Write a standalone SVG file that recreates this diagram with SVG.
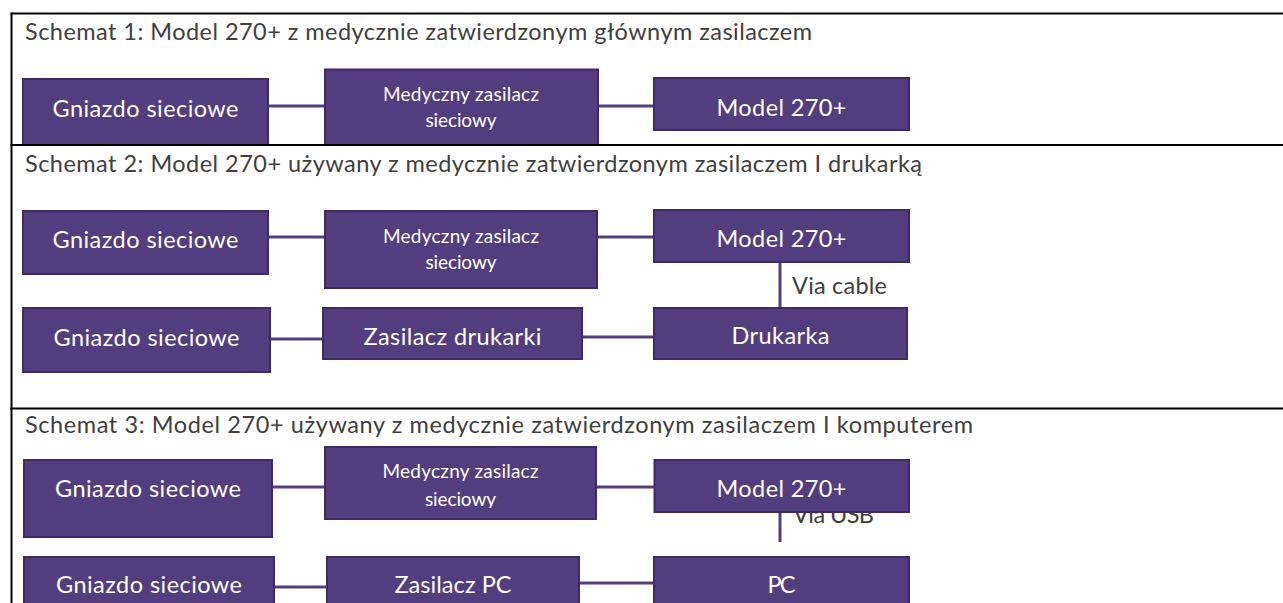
<svg xmlns="http://www.w3.org/2000/svg" width="1283" height="603" viewBox="0 0 1283 603">
  <style>
    .title { font-family: Lato, "Open Sans", "Liberation Sans", sans-serif; font-size: 23.5px; fill: #404040; }
    .lbl { font-family: Lato, "Open Sans", "Liberation Sans", sans-serif; font-size: 23.5px; fill: #ffffff; text-anchor: middle; }
    .small { font-family: Lato, "Open Sans", "Liberation Sans", sans-serif; font-size: 19px; fill: #ffffff; text-anchor: middle; }
    .note { font-family: Lato, "Open Sans", "Liberation Sans", sans-serif; font-size: 23.5px; fill: #404040; }
    .box { fill: #523E7F; stroke: #3E2B66; stroke-width: 2; }
    .wire { stroke: #533F80; stroke-width: 3; fill: none; }
    .rule { stroke: #000000; stroke-width: 2; fill: none; }
  </style>
  <defs>
    <clipPath id="cell1"><rect x="12" y="14.5" width="1271" height="129.5"/></clipPath>
    <clipPath id="cell3"><rect x="12" y="409.5" width="1271" height="194"/></clipPath>
    <clipPath id="m3text"><rect x="325" y="447" width="271" height="61"/></clipPath>
  </defs>

  <rect x="0" y="0" width="1283" height="603" fill="#ffffff"/>

  <!-- section titles -->
  <text class="title" x="25" y="39.5" textLength="787" lengthAdjust="spacing">Schemat 1: Model 270+ z medycznie zatwierdzonym głównym zasilaczem</text>
  <text class="title" x="25" y="172" textLength="897" lengthAdjust="spacing">Schemat 2: Model 270+ używany z medycznie zatwierdzonym zasilaczem I drukarką</text>
  <text class="title" x="25" y="433" textLength="948" lengthAdjust="spacing">Schemat 3: Model 270+ używany z medycznie zatwierdzonym zasilaczem I komputerem</text>

  <!-- connectors -->
  <g id="connectors">
    <g clip-path="url(#cell1)">
      <line class="wire" x1="266" y1="106" x2="327" y2="106"/>
      <line class="wire" x1="596" y1="106" x2="656" y2="106"/>
    </g>
    <line class="wire" x1="266" y1="237" x2="327" y2="237"/>
    <line class="wire" x1="595" y1="237" x2="656" y2="237"/>
    <line class="wire" x1="780" y1="261" x2="780" y2="309"/>
    <line class="wire" x1="268" y1="339" x2="325" y2="339"/>
    <line class="wire" x1="580" y1="337" x2="656" y2="337"/>
    <g clip-path="url(#cell3)">
      <line class="wire" x1="270" y1="487" x2="327" y2="487"/>
      <line class="wire" x1="594" y1="487" x2="656" y2="487"/>
      <line class="wire" x1="780" y1="505" x2="780" y2="542"/>
      <line class="wire" x1="272" y1="587" x2="329" y2="587"/>
      <line class="wire" x1="577" y1="583" x2="656" y2="583"/>
    </g>
  </g>

  <!-- connector labels -->
  <text class="note" x="792" y="293.5" textLength="95" lengthAdjust="spacing">Via cable</text>
  <text class="note" x="793" y="523" textLength="81" lengthAdjust="spacing">Via USB</text>

  <!-- scheme 1 -->
  <g clip-path="url(#cell1)">
    <g id="s1-gniazdo">
      <rect class="box" x="23" y="79" width="245" height="75"/>
      <text class="lbl" x="145.5" y="116.7" textLength="186" lengthAdjust="spacing">Gniazdo sieciowe</text>
    </g>
    <g id="s1-zasilacz">
      <rect class="box" x="325" y="69.5" width="273" height="85"/>
      <text class="small" x="461" y="101" textLength="156" lengthAdjust="spacing">Medyczny zasilacz</text>
      <text class="small" x="461" y="127" textLength="71" lengthAdjust="spacing">sieciowy</text>
    </g>
    <g id="s1-model">
      <rect class="box" x="654" y="78" width="255" height="52"/>
      <text class="lbl" x="781.5" y="115.7" textLength="130" lengthAdjust="spacing">Model 270+</text>
    </g>
  </g>

  <!-- scheme 2 -->
  <g id="s2-gniazdo-a">
    <rect class="box" x="23" y="211" width="245" height="63"/>
    <text class="lbl" x="145.5" y="248" textLength="186" lengthAdjust="spacing">Gniazdo sieciowe</text>
  </g>
  <g id="s2-zasilacz">
    <rect class="box" x="325" y="211" width="272" height="77"/>
    <text class="small" x="461" y="243" textLength="156" lengthAdjust="spacing">Medyczny zasilacz</text>
    <text class="small" x="461" y="269" textLength="71" lengthAdjust="spacing">sieciowy</text>
  </g>
  <g id="s2-model">
    <rect class="box" x="654" y="210" width="255" height="52"/>
    <text class="lbl" x="781.5" y="246.7" textLength="130" lengthAdjust="spacing">Model 270+</text>
  </g>
  <g id="s2-gniazdo-b">
    <rect class="box" x="23" y="308" width="247" height="64"/>
    <text class="lbl" x="146.5" y="346" textLength="186" lengthAdjust="spacing">Gniazdo sieciowe</text>
  </g>
  <g id="s2-zasilacz-drukarki">
    <rect class="box" x="323" y="308" width="259" height="51"/>
    <text class="lbl" x="452.5" y="345" textLength="178" lengthAdjust="spacing">Zasilacz drukarki</text>
  </g>
  <g id="s2-drukarka">
    <rect class="box" x="654" y="308" width="253" height="51"/>
    <text class="lbl" x="780.5" y="344" textLength="98" lengthAdjust="spacing">Drukarka</text>
  </g>

  <!-- scheme 3 -->
  <g clip-path="url(#cell3)">
    <g id="s3-gniazdo-a">
      <rect class="box" x="24" y="460" width="248" height="77"/>
      <text class="lbl" x="148" y="497" textLength="186" lengthAdjust="spacing">Gniazdo sieciowe</text>
    </g>
    <g id="s3-zasilacz">
      <rect class="box" x="325" y="447" width="271" height="72"/>
      <g clip-path="url(#m3text)">
        <text class="small" x="460.5" y="478" textLength="156" lengthAdjust="spacing">Medyczny zasilacz</text>
        <text class="small" x="460.5" y="505.5" textLength="71" lengthAdjust="spacing">sieciowy</text>
      </g>
    </g>
    <g id="s3-model">
      <rect class="box" x="654.5" y="460" width="254.5" height="52"/>
      <text class="lbl" x="781.5" y="496.7" textLength="130" lengthAdjust="spacing">Model 270+</text>
    </g>
    <g id="s3-gniazdo-b">
      <rect class="box" x="24" y="557" width="250" height="60"/>
      <text class="lbl" x="149" y="593.3" textLength="186" lengthAdjust="spacing">Gniazdo sieciowe</text>
    </g>
    <g id="s3-zasilacz-pc">
      <rect class="box" x="327" y="557" width="252" height="60"/>
      <text class="lbl" x="453" y="593" textLength="117" lengthAdjust="spacing">Zasilacz PC</text>
    </g>
    <g id="s3-pc">
      <rect class="box" x="654" y="557" width="255" height="60"/>
      <text class="lbl" x="781.5" y="593" textLength="28" lengthAdjust="spacing">PC</text>
    </g>
  </g>

  <!-- table rules -->
  <g id="frame">
    <line class="rule" x1="10.5" y1="13.5" x2="1283" y2="13.5"/>
    <line class="rule" x1="11.5" y1="12.5" x2="11.5" y2="603"/>
    <line class="rule" x1="10.5" y1="145" x2="1283" y2="145"/>
    <line class="rule" x1="10.5" y1="408.5" x2="1283" y2="408.5"/>
  </g>
</svg>
